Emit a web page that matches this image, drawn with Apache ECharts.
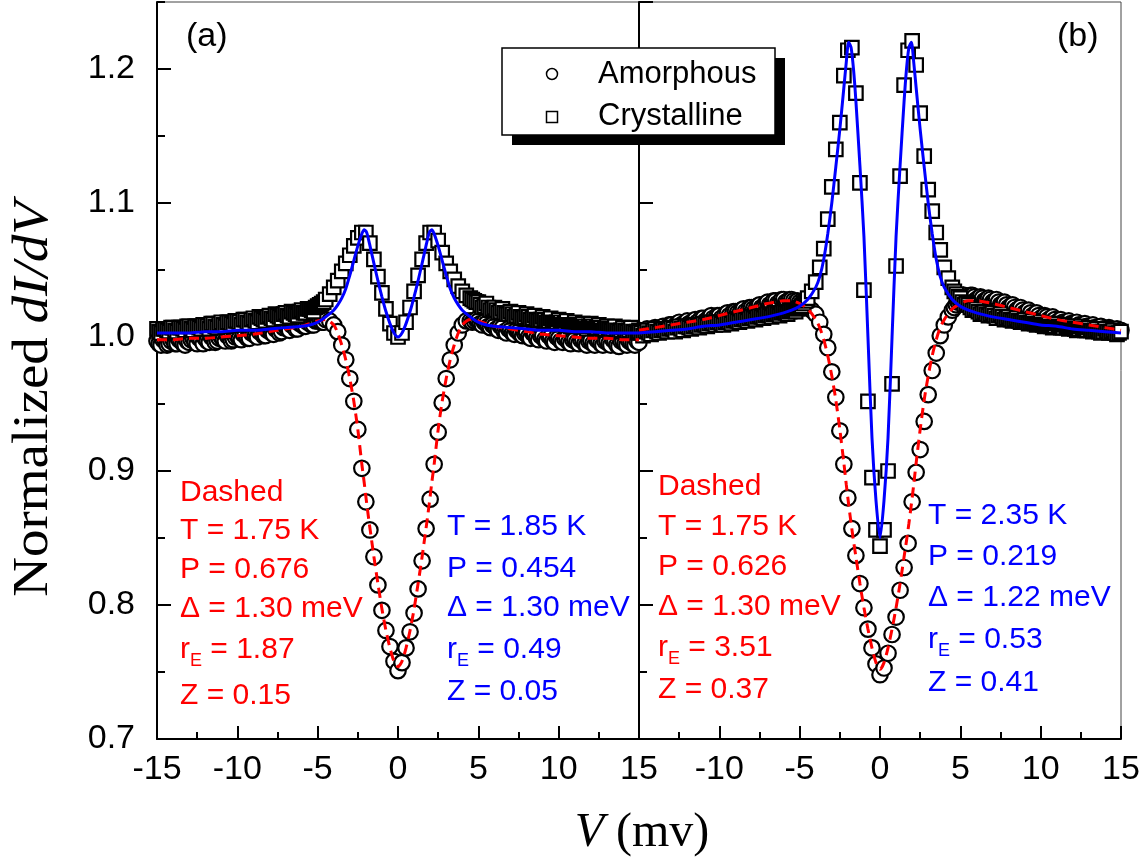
<!DOCTYPE html>
<html><head><meta charset="utf-8">
<script src="https://cdn.jsdelivr.net/npm/echarts@6/dist/echarts.min.js"></script>
<style>html,body{margin:0;padding:0;background:#fff}#c{width:1146px;height:867px}</style>
</head><body><div id="c"></div>
<script>
// ---- measured voltage grid (mV) ----
const V = [
-15,-14.75,-14.5,-14.25, -14,-13.75,-13.5,-13.25, -13,-12.75,-12.5,-12.25, -12,-11.75,-11.5,-11.25,
-11,-10.75,-10.5,-10.25, -10,-9.75,-9.5,-9.25, -9,-8.75,-8.5,-8.25, -8,-7.75,-7.5,-7.25,
-7,-6.75,-6.5,-6.25, -6,-5.75,-5.5,-5.25, -5,-4.75,-4.5,-4.25, -4,-3.75,-3.5,-3.25,
-3,-2.75,-2.5,-2.25, -2,-1.75,-1.5,-1.25, -1,-0.75,-0.5,-0.25, 0,0.25,0.5,0.75,
1,1.25,1.5,1.75, 2,2.25,2.5,2.75, 3,3.25,3.5,3.75, 4,4.25,4.5,4.75,
5,5.25,5.5,5.75, 6,6.25,6.5,6.75, 7,7.25,7.5,7.75, 8,8.25,8.5,8.75,
9,9.25,9.5,9.75, 10,10.25,10.5,10.75, 11,11.25,11.5,11.75, 12,12.25,12.5,12.75,
13,13.25,13.5,13.75, 14,14.25,14.5,14.75, 15];
// extra (denser) readings in the flat background regions
const Vmid = [
-14.875,-14.625,-14.375,-14.125, -13.875,-13.625,-13.375,-13.125, -12.875,-12.625,-12.375,-12.125,
-11.875,-11.625,-11.375,-11.125, -10.875,-10.625,-10.375,-10.125, -9.875,-9.625,-9.375,-9.125,
-8.875,-8.625,-8.375,-8.125, -7.875,-7.625,-7.375,-7.125, -6.875,-6.625,-6.375,-6.125,
-5.875,-5.625,-5.375,-5.125, -4.875,-4.625,
4.625,4.875, 5.125,5.375,5.625,5.875, 6.125,6.375,6.625,6.875, 7.125,7.375,7.625,7.875,
8.125,8.375,8.625,8.875, 9.125,9.375,9.625,9.875, 10.125,10.375,10.625,10.875,
11.125,11.375,11.625,11.875, 12.125,12.375,12.625,12.875, 13.125,13.375,13.625,13.875,
14.125,14.375,14.625,14.875];

// ---- panel (a) data ----
const aAmorphous = [
0.997,0.994,0.998,0.995, 0.998,0.995,0.997,0.994, 0.996,0.999,0.995,0.998, 0.999,0.996,0.999,0.997,
1.000,0.997,1.001,0.998, 1.001,0.998,1.002,0.999, 1.003,1.000,1.004,1.001, 1.005,1.002,1.006,1.004,
1.008,1.005,1.009,1.006, 1.010,1.008,1.011,1.009, 1.012,1.011,1.013,1.012, 1.009,1.004,0.994,0.983,
0.969,0.952,0.931,0.902, 0.877,0.856,0.836,0.815, 0.796,0.781,0.769,0.758, 0.751,0.757,0.768,0.780,
0.794,0.812,0.833,0.857, 0.879,0.905,0.929,0.951, 0.969,0.983,0.994,1.003, 1.009,1.012,1.012,1.012,
1.012,1.009,1.010,1.007, 1.008,1.005,1.007,1.003, 1.005,1.002,1.004,1.001, 1.003,0.999,1.002,0.998,
1.001,0.997,1.000,0.996, 0.999,0.996,0.999,0.995, 0.998,0.995,0.998,0.994, 0.997,0.994,0.997,0.994,
0.997,0.994,0.997,0.993, 0.997,0.994,0.996,0.994, 0.996];
const aAmorphousMid = [
0.995,0.998,0.994,0.997, 0.995,0.998,0.995,0.997, 0.998,0.996,0.999,0.995, 0.997,1.000,0.996,0.999,
0.998,1.001,0.997,1.000, 0.999,1.002,0.999,1.003, 1.001,1.004,1.001,1.005, 1.003,1.006,1.003,1.007,
1.006,1.009,1.006,1.010, 1.008,1.011,1.009,1.012, 1.013,1.011,
1.011,1.013, 1.010,1.011,1.008,1.009, 1.006,1.008,1.004,1.006, 1.003,1.005,1.002,1.003,
1.000,1.003,0.999,1.001, 0.998,1.001,0.997,1.000, 0.997,0.999,0.996,0.998,
0.996,0.998,0.995,0.997, 0.995,0.998,0.995,0.997, 0.995,0.998,0.994,0.997,
0.995,0.997,0.995,0.997];
const aCrystalline = [
1.006,1.003,1.006,1.004, 1.007,1.004,1.007,1.005, 1.008,1.005,1.008,1.006, 1.009,1.006,1.010,1.007,
1.011,1.008,1.011,1.009, 1.012,1.009,1.013,1.010, 1.014,1.011,1.014,1.012, 1.016,1.013,1.016,1.014,
1.018,1.015,1.018,1.016, 1.020,1.018,1.021,1.019, 1.023,1.025,1.028,1.032, 1.037,1.042,1.049,1.055,
1.061,1.068,1.074,1.078, 1.078,1.070,1.058,1.045, 1.033,1.021,1.010,1.003, 1.000,1.003,1.011,1.022,
1.034,1.046,1.058,1.070, 1.078,1.078,1.072,1.063, 1.055,1.049,1.043,1.038, 1.034,1.031,1.029,1.027,
1.026,1.022,1.025,1.020, 1.022,1.018,1.021,1.017, 1.019,1.015,1.018,1.014, 1.017,1.013,1.016,1.012,
1.015,1.011,1.014,1.010, 1.013,1.009,1.012,1.008, 1.011,1.008,1.010,1.006, 1.010,1.006,1.009,1.005,
1.008,1.005,1.008,1.004, 1.007,1.004,1.007,1.003, 1.005];
const aCrystallineMid = [
1.004,1.006,1.005,1.007, 1.005,1.007,1.006,1.008, 1.006,1.008,1.007,1.009, 1.008,1.010,1.008,1.010,
1.009,1.011,1.010,1.012, 1.011,1.013,1.011,1.013, 1.012,1.015,1.013,1.015, 1.014,1.017,1.015,1.017,
1.016,1.019,1.017,1.019, 1.018,1.021,1.020,1.022, 1.024,1.026,
1.028,1.026, 1.024,1.023,1.022,1.021, 1.020,1.019,1.018,1.017, 1.017,1.016,1.015,1.015,
1.015,1.014,1.013,1.013, 1.013,1.012,1.011,1.011, 1.011,1.010,1.009,1.009,
1.009,1.009,1.008,1.008, 1.008,1.007,1.007,1.006, 1.006,1.006,1.005,1.005,
1.005,1.005,1.004,1.004];

// ---- panel (b) data ----
const bAmorphous = [
1.005,1.002,1.006,1.003, 1.007,1.004,1.008,1.005, 1.009,1.006,1.011,1.008, 1.012,1.009,1.013,1.010,
1.014,1.011,1.016,1.013, 1.016,1.013,1.018,1.015, 1.019,1.017,1.021,1.018, 1.022,1.020,1.024,1.022,
1.026,1.024,1.027,1.025, 1.028,1.026,1.028,1.026, 1.026,1.024,1.022,1.020, 1.017,1.011,1.002,0.992,
0.974,0.955,0.930,0.905, 0.880,0.857,0.837,0.816, 0.798,0.782,0.768,0.756, 0.748,0.753,0.764,0.778,
0.791,0.811,0.828,0.846, 0.877,0.899,0.916,0.937, 0.957,0.975,0.988,1.001, 1.009,1.015,1.020,1.024,
1.028,1.031,1.029,1.031, 1.028,1.030,1.027,1.029, 1.026,1.028,1.024,1.026, 1.022,1.024,1.020,1.022,
1.018,1.020,1.016,1.018, 1.014,1.016,1.013,1.015, 1.011,1.013,1.010,1.012, 1.009,1.011,1.008,1.010,
1.007,1.009,1.006,1.008, 1.005,1.007,1.004,1.006, 1.005];
const bAmorphousMid = [
1.003,1.005,1.004,1.006, 1.005,1.007,1.006,1.009, 1.007,1.010,1.009,1.011, 1.010,1.012,1.011,1.014,
1.012,1.015,1.014,1.016, 1.014,1.017,1.016,1.019, 1.018,1.020,1.019,1.022, 1.021,1.023,1.022,1.025,
1.024,1.027,1.025,1.028, 1.026,1.028,1.027,1.027, 1.025,1.023,
1.022,1.026, 1.029,1.030,1.031,1.030, 1.029,1.029,1.028,1.028, 1.027,1.026,1.025,1.024,
1.023,1.022,1.021,1.020, 1.019,1.018,1.017,1.016, 1.015,1.015,1.014,1.013,
1.012,1.011,1.011,1.010, 1.010,1.009,1.009,1.008, 1.008,1.007,1.007,1.006,
1.006,1.005,1.005,1.004];
const bCrystalline = [
1.004,1.001,1.005,1.002, 1.006,1.003,1.006,1.004, 1.007,1.004,1.008,1.005, 1.008,1.006,1.009,1.007,
1.010,1.008,1.011,1.009, 1.011,1.009,1.012,1.010, 1.013,1.011,1.014,1.012, 1.015,1.013,1.016,1.014,
1.017,1.015,1.018,1.016, 1.019,1.017,1.020,1.019, 1.022,1.025,1.029,1.034, 1.041,1.052,1.066,1.088,
1.112,1.140,1.160,1.195, 1.214,1.216,1.182,1.115, 1.035,0.952,0.895,0.856, 0.844,0.856,0.900,0.965,
1.053,1.120,1.188,1.214, 1.221,1.203,1.167,1.135, 1.110,1.094,1.078,1.065, 1.052,1.044,1.037,1.032,
1.029,1.024,1.024,1.020, 1.021,1.017,1.019,1.016, 1.018,1.014,1.017,1.013, 1.015,1.012,1.014,1.011,
1.013,1.010,1.012,1.009, 1.011,1.008,1.010,1.007, 1.010,1.007,1.009,1.006, 1.008,1.005,1.008,1.005,
1.007,1.004,1.006,1.003, 1.006,1.003,1.005,1.002, 1.004];
const bCrystallineMid = [
1.003,1.004,1.003,1.005, 1.004,1.005,1.005,1.006, 1.006,1.007,1.006,1.008, 1.007,1.008,1.008,1.009,
1.009,1.010,1.010,1.011, 1.010,1.011,1.011,1.012, 1.012,1.013,1.013,1.014, 1.014,1.015,1.015,1.016,
1.016,1.017,1.017,1.018, 1.018,1.019,1.020,1.021, 1.023,1.027,
1.034,1.030, 1.026,1.025,1.022,1.021, 1.019,1.018,1.017,1.017, 1.016,1.016,1.015,1.014,
1.013,1.013,1.012,1.012, 1.011,1.011,1.010,1.010, 1.009,1.009,1.008,1.008,
1.008,1.007,1.007,1.007, 1.006,1.006,1.006,1.005, 1.005,1.005,1.004,1.004,
1.004,1.004,1.003,1.003];

// ---- fitted curves (BTK fits) ----
const fitV = [
-15,-14,-13,-12,-11,-10,-9,-8,-7,-6,
-5.5,-5,-4.5,-4,-3.75,-3.5,-3.25,-3,-2.75,-2.5,
-2.25,-2.1,-1.95,-1.8,-1.65,-1.5,-1.25,-1,-0.75,-0.5,
-0.25,0,0.25,0.5,0.75,1,1.25,1.5,1.65,1.8,
1.95,2.1,2.25,2.5,2.75,3,3.25,3.5,3.75,4,
4.5,5,5.5,6,7,8,9,10,11,12,
13,14,15];
const aFitAmorphous = [
0.998,0.998,0.999,0.999,1.000,1.001,1.002,1.004,1.006,1.008,
1.010,1.012,1.013,1.009,1.003,0.994,0.983,0.969,0.952,0.931,
0.905,0.891,0.876,0.862,0.849,0.836,0.816,0.797,0.781,0.768,
0.758,0.754,0.758,0.768,0.781,0.797,0.816,0.836,0.849,0.862,
0.876,0.891,0.905,0.931,0.952,0.969,0.983,0.994,1.003,1.009,
1.013,1.012,1.010,1.008,1.006,1.004,1.002,1.001,1.000,0.999,
0.999,0.998,0.998];
const aFitCrystalline = [
1.003,1.003,1.003,1.004,1.004,1.005,1.005,1.006,1.007,1.008,
1.009,1.011,1.015,1.020,1.024,1.029,1.036,1.046,1.057,1.068,
1.077,1.080,1.078,1.071,1.063,1.055,1.042,1.030,1.019,1.010,
1.003,1.000,1.003,1.010,1.019,1.030,1.042,1.055,1.063,1.071,
1.078,1.080,1.077,1.068,1.057,1.046,1.036,1.029,1.024,1.020,
1.015,1.011,1.009,1.008,1.007,1.006,1.005,1.005,1.004,1.004,
1.003,1.003,1.003];
const bFitAmorphous = [
1.005,1.007,1.009,1.011,1.013,1.016,1.019,1.022,1.025,1.027,
1.027,1.025,1.021,1.013,1.007,0.998,0.986,0.971,0.953,0.931,
0.906,0.890,0.875,0.861,0.848,0.836,0.816,0.798,0.782,0.768,
0.757,0.752,0.757,0.768,0.782,0.798,0.816,0.836,0.848,0.861,
0.875,0.890,0.906,0.931,0.953,0.971,0.986,0.998,1.007,1.013,
1.021,1.025,1.027,1.027,1.025,1.022,1.019,1.016,1.013,1.011,
1.009,1.007,1.005];
const bFitCrystalline = [
1.003,1.004,1.005,1.006,1.008,1.009,1.011,1.013,1.015,1.018,
1.020,1.023,1.028,1.037,1.045,1.058,1.077,1.100,1.127,1.155,
1.186,1.205,1.220,1.216,1.200,1.176,1.128,1.075,1.000,0.925,
0.878,0.850,0.878,0.925,1.000,1.075,1.128,1.176,1.200,1.216,
1.220,1.205,1.186,1.155,1.127,1.100,1.077,1.058,1.045,1.037,
1.028,1.023,1.020,1.018,1.015,1.013,1.011,1.009,1.008,1.006,
1.005,1.004,1.003];

// ---- texts ----
const seriesNames = ['Amorphous', 'Crystalline'];
const panelLabels = ['(a)', '(b)'];
const yAxisTitle = ['Normalized ', 'dI/dV'];
const xAxisTitle = ['V', ' (mv)'];
const redA = ['Dashed', 'T = 1.75 K', 'P = 0.676', 'Δ = 1.30 meV', 'r_E = 1.87', 'Z = 0.15'];
const blueA = ['T = 1.85 K', 'P = 0.454', 'Δ = 1.30 meV', 'r_E = 0.49', 'Z = 0.05'];
const redB = ['Dashed', 'T = 1.75 K', 'P = 0.626', 'Δ = 1.30 meV', 'r_E = 3.51', 'Z = 0.37'];
const blueB = ['T = 2.35 K', 'P = 0.219', 'Δ = 1.22 meV', 'r_E = 0.53', 'Z = 0.41'];

const SANS = '"Liberation Sans", Arial, Helvetica, sans-serif';
const SERIF = '"Liberation Serif", "Times New Roman", Times, serif';
const RED = '#ff0000', BLUE = '#0000ff';

const pairs = (xs, ys) => xs.map((x, i) => [x, ys[i]]);
const merged = (x1, y1, x2, y2) => pairs(x1, y1).concat(pairs(x2, y2)).sort((p, q) => p[0] - q[0]);

const chart = echarts.init(document.getElementById('c'), null, {renderer: 'canvas'});

function xAxisCfg(gi, showMin) {
  return {
    type: 'value', gridIndex: gi, min: -15, max: 15, interval: 5,
    axisLine: {show: true, onZero: false, lineStyle: {color: '#000', width: 2}},
    axisTick: {show: true, inside: true, length: 13, lineStyle: {color: '#000', width: 2}},
    minorTick: {show: true, splitNumber: 2, length: 7, lineStyle: {color: '#000', width: 2}},
    splitLine: {show: false}, minorSplitLine: {show: false},
    axisLabel: {show: true, margin: 14, fontSize: 34, color: '#000', fontFamily: SANS,
      showMinLabel: showMin, showMaxLabel: true, formatter: v => String(v)}
  };
}
function yAxisCfg(gi, major, labels) {
  return {
    type: 'value', gridIndex: gi, position: 'left', min: 0.7, max: 1.25,
    interval: major ? 0.1 : 0.05,
    axisLine: {show: major, onZero: false, lineStyle: {color: '#000', width: 2}},
    axisTick: {show: true, inside: true, length: major ? 14 : 8, lineStyle: {color: '#000', width: 2}},
    splitLine: {show: false},
    axisLabel: {show: labels, margin: 22, fontSize: 34, color: '#000', fontFamily: SANS,
      showMaxLabel: false, formatter: v => v.toFixed(1)}
  };
}

function scatter(name, data, xi, yi, symbol, size, z) {
  return {type: 'scatter', name, xAxisIndex: xi, yAxisIndex: yi, data, symbol, symbolSize: size,
    itemStyle: {color: '#fff', borderColor: '#000', borderWidth: 2.2, opacity: 1}, z, silent: true};
}
function fitLine(name, data, xi, yi, color, dashed, z) {
  return {type: 'line', name, xAxisIndex: xi, yAxisIndex: yi, data, showSymbol: false, smooth: 0.25,
    lineStyle: {color, width: 3, type: dashed ? [10, 6] : 'solid'}, z, silent: true};
}

// text measurement for the subscript lines
const mctx = document.createElement('canvas').getContext('2d');
function tw(s, size) { mctx.font = size + 'px ' + SANS; return mctx.measureText(s).width; }

const graphics = [];
function txt(s, x, y, color, size, extra) {
  graphics.push(Object.assign({type: 'text', z: 50, silent: true,
    style: {text: s, x, y, fill: color, fontSize: size, fontFamily: SANS,
      align: 'left', verticalAlign: 'middle', textAlign: 'left', textVerticalAlign: 'middle'}}, extra || {}));
}
const ANN = 30, SUB = 18;
function block(lines, x, ys, color) {
  lines.forEach((s, i) => {
    const y = ys[i];
    if (s.indexOf('_') >= 0) {
      const pre = s.split('_')[0], rest = s.split('_')[1];
      const sub = rest[0], post = rest.slice(1);
      const w1 = tw(pre, ANN), w2 = tw(sub, SUB);
      txt(pre, x, y, color, ANN);
      txt(sub, x + w1, y + 11, color, SUB);
      txt(post, x + w1 + w2, y, color, ANN);
    } else {
      txt(s, x, y, color, ANN);
    }
  });
}
block(redA, 180, [493, 531, 570, 609, 650, 696], RED);
block(blueA, 447, [527, 569, 608, 650, 692], BLUE);
block(redB, 658, [487, 527, 567, 607, 648, 690], RED);
block(blueB, 928, [516, 557, 598, 640, 683], BLUE);

// panel labels
txt(panelLabels[0], 186, 37, '#000', 34);
txt(panelLabels[1], 1057, 37, '#000', 34);

// legend box with hard shadow
graphics.push({type: 'rect', z: 90, silent: true, shape: {x: 512, y: 58, width: 273, height: 87}, style: {fill: '#000'}});
graphics.push({type: 'rect', z: 91, silent: true, shape: {x: 502, y: 48, width: 273, height: 87}, style: {fill: '#fff', stroke: '#000', lineWidth: 1.5}});
graphics.push({type: 'circle', z: 92, silent: true, shape: {cx: 552, cy: 74, r: 5.5}, style: {fill: '#fff', stroke: '#000', lineWidth: 1.5}});
graphics.push({type: 'rect', z: 92, silent: true, shape: {x: 546.5, y: 111.5, width: 11, height: 11}, style: {fill: '#fff', stroke: '#000', lineWidth: 1.5}});
txt(seriesNames[0], 598, 74, '#000', 31, {z: 93});
txt(seriesNames[1], 598, 116, '#000', 31, {z: 93});

// axis titles
graphics.push({type: 'text', z: 50, silent: true, x: 34, y: 399, rotation: Math.PI / 2, scaleX: 1.1,
  style: {text: '{n|' + yAxisTitle[0] + '}{i|' + yAxisTitle[1] + '}', x: 0, y: 0, align: 'center', verticalAlign: 'middle',
    textAlign: 'center', textVerticalAlign: 'middle', fill: '#000',
    rich: {n: {fontSize: 50, fontFamily: SERIF, fill: '#000'}, i: {fontSize: 50, fontFamily: SERIF, fontStyle: 'italic', fill: '#000'}}}});
graphics.push({type: 'text', z: 50, silent: true, x: 642, y: 833,
  style: {text: '{i|' + xAxisTitle[0] + '}{n|' + xAxisTitle[1] + '}', x: 0, y: 0, align: 'center', verticalAlign: 'middle',
    textAlign: 'center', textVerticalAlign: 'middle', fill: '#000',
    rich: {n: {fontSize: 48, fontFamily: SERIF, fill: '#000'}, i: {fontSize: 48, fontFamily: SERIF, fontStyle: 'italic', fill: '#000'}}}});

const option = {
  animation: false,
  backgroundColor: '#fff',
  grid: [
    {left: 157, top: 2, width: 482, height: 737, show: true, borderColor: '#444', borderWidth: 1, backgroundColor: 'transparent'},
    {left: 639, top: 2, width: 482, height: 737, show: true, borderColor: '#444', borderWidth: 1, backgroundColor: 'transparent'}
  ],
  xAxis: [xAxisCfg(0, true), xAxisCfg(1, false)],
  yAxis: [yAxisCfg(0, true, true), yAxisCfg(0, false, false), yAxisCfg(1, true, false), yAxisCfg(1, false, false)],
  series: [
    scatter(seriesNames[0], merged(V, aAmorphous, Vmid, aAmorphousMid), 0, 0, 'circle', 15.5, 2),
    scatter(seriesNames[1], merged(V, aCrystalline, Vmid, aCrystallineMid), 0, 0, 'rect', 13.5, 3),
    fitLine('Fit amorphous (a)', pairs(fitV, aFitAmorphous), 0, 0, RED, true, 4),
    fitLine('Fit crystalline (a)', pairs(fitV, aFitCrystalline), 0, 0, BLUE, false, 5),
    scatter(seriesNames[0], merged(V, bAmorphous, Vmid, bAmorphousMid), 1, 2, 'circle', 15.5, 2),
    scatter(seriesNames[1], merged(V, bCrystalline, Vmid, bCrystallineMid), 1, 2, 'rect', 13.5, 3),
    fitLine('Fit amorphous (b)', pairs(fitV, bFitAmorphous), 1, 2, RED, true, 4),
    fitLine('Fit crystalline (b)', pairs(fitV, bFitCrystalline), 1, 2, BLUE, false, 5)
  ],
  graphic: graphics
};
chart.setOption(option);
</script></body></html>
